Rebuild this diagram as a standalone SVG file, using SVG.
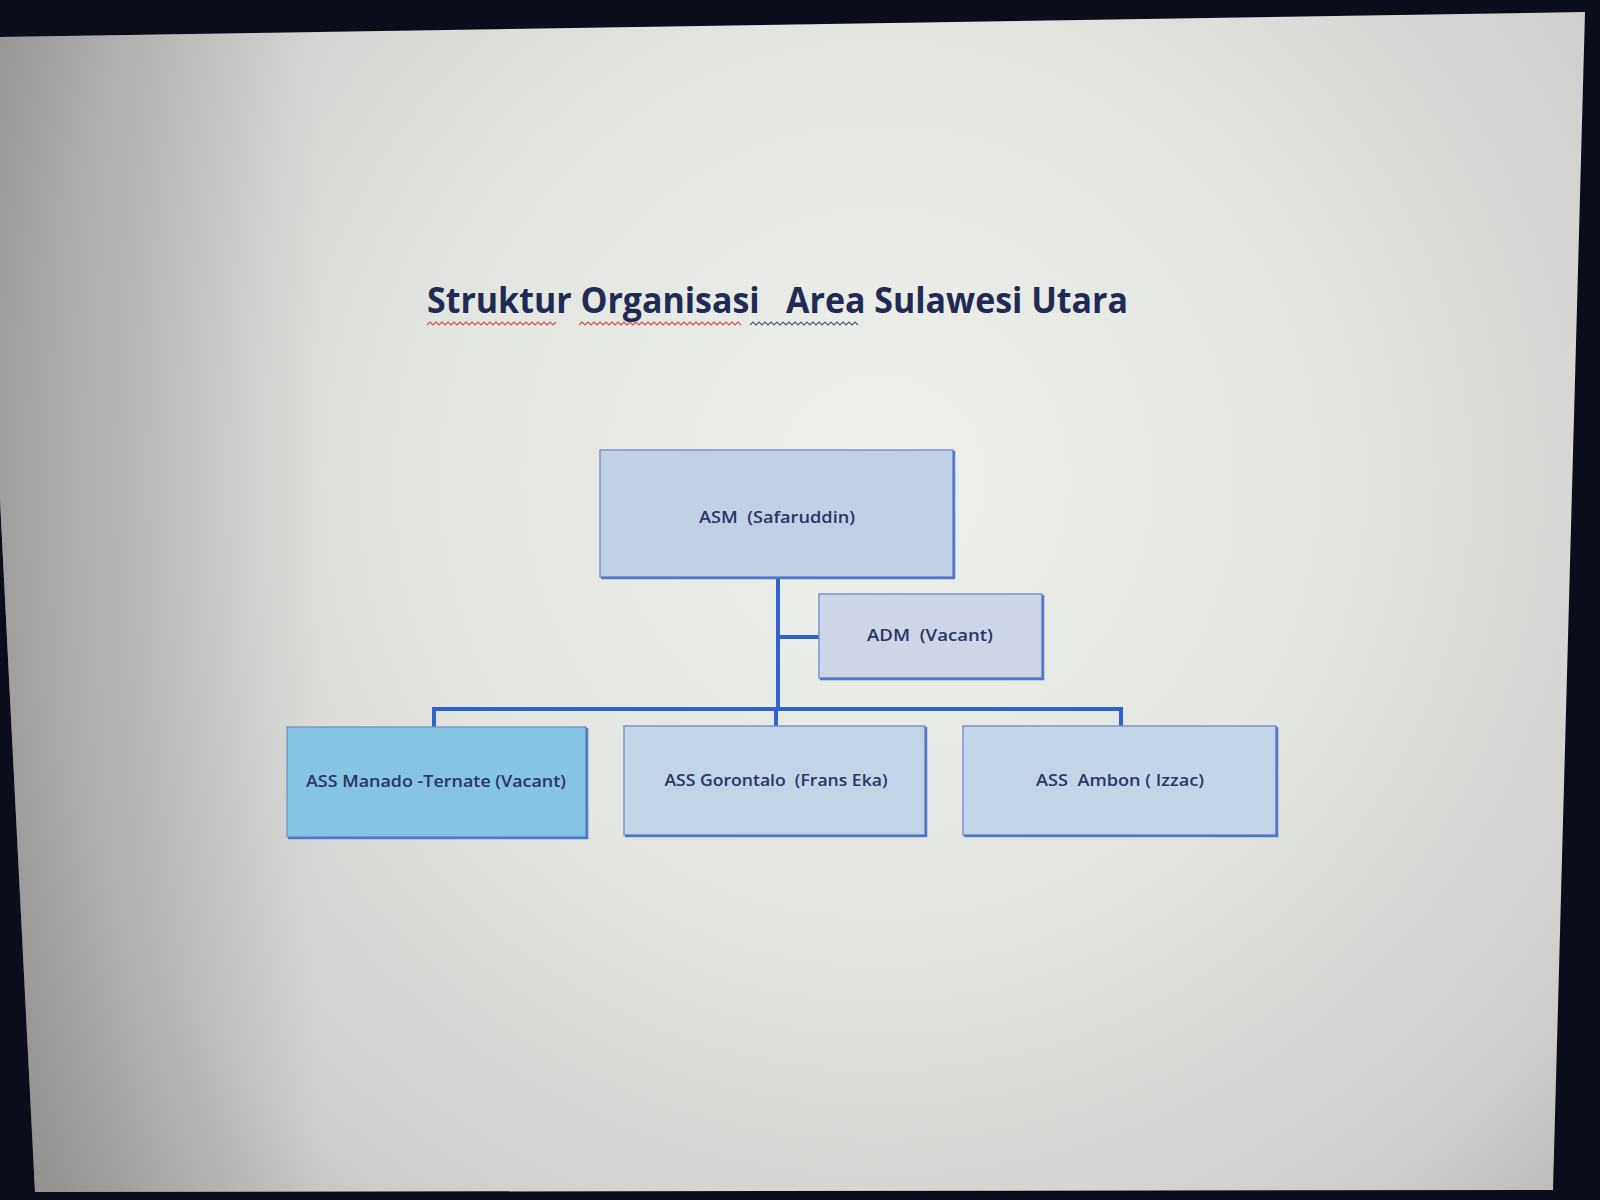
<svg xmlns="http://www.w3.org/2000/svg" width="1600" height="1200" viewBox="0 0 1600 1200">
<defs>
<radialGradient id="scr" cx="880" cy="480" r="1150" gradientUnits="userSpaceOnUse">
<stop offset="0" stop-color="#eef0ea"/>
<stop offset="0.4" stop-color="#e3e5e1"/>
<stop offset="0.75" stop-color="#cdcecb"/>
<stop offset="1" stop-color="#a6a6a4"/>
</radialGradient>
<linearGradient id="leftShade" x1="0" y1="0" x2="320" y2="0" gradientUnits="userSpaceOnUse">
<stop offset="0" stop-color="#6a6a6a" stop-opacity="0.45"/>
<stop offset="1" stop-color="#6a6a6a" stop-opacity="0"/>
</linearGradient>
<style>
.box{stroke:#7b95cc;stroke-width:1.5}
.shadow{fill:none;stroke:#4f78cf;stroke-width:2.5}
.lbl{font-family:"Open Sans","Liberation Sans",sans-serif;font-size:17px;font-weight:600;fill:#2b3565;text-anchor:middle}
.con{stroke:#2f63cc;stroke-width:4;fill:none}
</style>
</defs>
<rect x="0" y="0" width="1600" height="1200" fill="#0b0d1a"/>
<polygon points="0,37 1585,12 1553,1190 35,1192 0,500" fill="url(#scr)"/>
<polygon points="0,37 1585,12 1553,1190 35,1192 0,500" fill="url(#leftShade)"/>
<g id="title">
<text x="427" y="313" xml:space="preserve" font-family="Open Sans, Liberation Sans, sans-serif" font-size="35" font-weight="700" fill="#1f2a55" textLength="701" lengthAdjust="spacingAndGlyphs">Struktur Organisasi   Area Sulawesi Utara</text>
<path d="M427,325 l3,-3 l3,3 l3,-3 l3,3 l3,-3 l3,3 l3,-3 l3,3 l3,-3 l3,3 l3,-3 l3,3 l3,-3 l3,3 l3,-3 l3,3 l3,-3 l3,3 l3,-3 l3,3 l3,-3 l3,3 l3,-3 l3,3 l3,-3 l3,3 l3,-3 l3,3 l3,-3 l3,3 l3,-3 l3,3 l3,-3 l3,3 l3,-3 l3,3 l3,-3 l3,3 l3,-3 l3,3 l3,-3 l3,3 l3,-3" fill="none" stroke="#d05050" stroke-width="1.2"/>
<path d="M579,325 l3,-3 l3,3 l3,-3 l3,3 l3,-3 l3,3 l3,-3 l3,3 l3,-3 l3,3 l3,-3 l3,3 l3,-3 l3,3 l3,-3 l3,3 l3,-3 l3,3 l3,-3 l3,3 l3,-3 l3,3 l3,-3 l3,3 l3,-3 l3,3 l3,-3 l3,3 l3,-3 l3,3 l3,-3 l3,3 l3,-3 l3,3 l3,-3 l3,3 l3,-3 l3,3 l3,-3 l3,3 l3,-3 l3,3 l3,-3 l3,3 l3,-3 l3,3 l3,-3 l3,3 l3,-3 l3,3 l3,-3 l3,3 l3,-3 l3,3" fill="none" stroke="#d05050" stroke-width="1.2"/>
<path d="M750,325 l3,-3 l3,3 l3,-3 l3,3 l3,-3 l3,3 l3,-3 l3,3 l3,-3 l3,3 l3,-3 l3,3 l3,-3 l3,3 l3,-3 l3,3 l3,-3 l3,3 l3,-3 l3,3 l3,-3 l3,3 l3,-3 l3,3 l3,-3 l3,3 l3,-3 l3,3 l3,-3 l3,3 l3,-3 l3,3 l3,-3 l3,3 l3,-3 l3,3" fill="none" stroke="#4a5a7a" stroke-width="1.2"/>
</g>
<g id="connectors">
<path class="con" d="M778,577 V709"/>
<path class="con" d="M778,637 H819"/>
<path class="con" d="M434,727 V709 H1121 V726"/>
<path class="con" d="M776,709 V726"/>
</g>
<g id="asm">
<rect class="box" x="600" y="450" width="353" height="127" fill="#c1d0e4"/>
<path class="shadow" d="M601,578 H954 V451"/>
<text class="lbl" x="777" y="523" xml:space="preserve" textLength="156" lengthAdjust="spacingAndGlyphs">ASM  (Safaruddin)</text>
</g>
<g id="adm">
<rect class="box" x="819" y="594" width="223" height="84" fill="#cdd5e6"/>
<path class="shadow" d="M820,679 H1043 V595"/>
<text class="lbl" x="930" y="641" xml:space="preserve" textLength="126" lengthAdjust="spacingAndGlyphs">ADM  (Vacant)</text>
</g>
<g id="ass-manado">
<rect class="box" x="287" y="727" width="299" height="110" fill="#86c4e4"/>
<path class="shadow" d="M288,838 H587 V728"/>
<text class="lbl" x="436" y="787" xml:space="preserve" textLength="260" lengthAdjust="spacingAndGlyphs">ASS Manado -Ternate (Vacant)</text>
</g>
<g id="ass-gorontalo">
<rect class="box" x="624" y="726" width="301" height="109" fill="#c3d4e7"/>
<path class="shadow" d="M625,836 H926 V727"/>
<text class="lbl" x="776" y="786" xml:space="preserve" textLength="223" lengthAdjust="spacingAndGlyphs">ASS Gorontalo  (Frans Eka)</text>
</g>
<g id="ass-ambon">
<rect class="box" x="963" y="726" width="313" height="109" fill="#c5d5e8"/>
<path class="shadow" d="M964,836 H1277 V727"/>
<text class="lbl" x="1120" y="786" xml:space="preserve" textLength="168" lengthAdjust="spacingAndGlyphs">ASS  Ambon ( Izzac)</text>
</g>
</svg>
